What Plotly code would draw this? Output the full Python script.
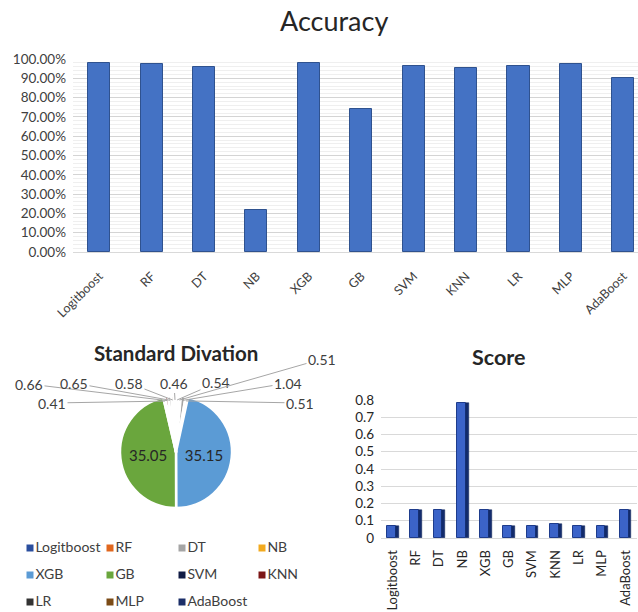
import math
import plotly.graph_objects as go

# ---------------- data ----------------
models = ["Logitboost", "RF", "DT", "NB", "XGB", "GB", "SVM", "KNN", "LR", "MLP", "AdaBoost"]
accuracy = [0.978, 0.973, 0.960, 0.218, 0.978, 0.741, 0.965, 0.952, 0.965, 0.973, 0.903]
std_dev = [0.54, 0.51, 1.04, 0.51, 35.15, 35.05, 0.41, 0.66, 0.65, 0.58, 0.46]
score = [0.07, 0.16, 0.16, 0.78, 0.16, 0.07, 0.07, 0.08, 0.07, 0.07, 0.16]

# ---------------- styles / layout ----------------
W, H = 638, 612
FONT = "Lato"
TXT = "#404040"
pie_colors = ["#2A4E9E", "#E0671E", "#A5A5A5", "#F2AA1F", "#5B9BD5", "#6AA63D",
              "#101B44", "#7C1616", "#333333", "#7B4B16", "#1B2E68"]
# label centres (pixels) for the small slices' callouts, None = label inside
callout_pos = [(216, 383), (322, 359), (288, 383), (300, 403), None, None,
               (52, 403), (29, 384), (74, 383), (129, 383), (174, 383)]
# legend grid (pixels): column x of the swatch, row y
legend_cols = [30, 110, 182, 262]
legend_rows = [548, 575, 602]


def px_x(v):
    return v / W


def px_y(v):
    return 1 - v / H


fig = go.Figure()

# Accuracy bars
fig.add_trace(go.Bar(
    x=list(range(len(models))), y=accuracy, width=0.42,
    marker=dict(color="#4472C4", line=dict(color="#2F528F", width=1)),
    xaxis="x", yaxis="y", showlegend=False, hoverinfo="y"))

# Score bars (front face + dark side face for a 3D look)
fig.add_trace(go.Bar(
    x=list(range(len(models))), y=score, width=0.38, offset=-0.24,
    marker=dict(color="#3B63C8", line=dict(color="#1E3C8C", width=1)),
    xaxis="x2", yaxis="y2", showlegend=False))
fig.add_trace(go.Bar(
    x=list(range(len(models))), y=score, width=0.12, offset=0.14,
    marker=dict(color="#132C6E", line=dict(color="#0E2257", width=0.5)),
    xaxis="x2", yaxis="y2", showlegend=False, hoverinfo="skip"))

# Pie
cx, cy, r = 176, 452, 56
total = sum(std_dev)
fig.add_trace(go.Pie(
    labels=models, values=std_dev, sort=False, direction="clockwise", rotation=0,
    marker=dict(colors=pie_colors, line=dict(color="white", width=2.5)),
    text=[f"{v:.2f}" if p is None else "" for v, p in zip(std_dev, callout_pos)],
    textinfo="text", textposition="inside", insidetextorientation="horizontal",
    textfont=dict(size=15, color="#262626", family=FONT),
    domain=dict(x=[px_x(cx - r), px_x(cx + r)], y=[px_y(cy + r), px_y(cy - r)]),
    showlegend=False, hoverinfo="label+value"))

# Legend drawn as swatches + text on a hidden pixel-space axis
lx = [legend_cols[i % 4] for i in range(len(models))]
ly = [legend_rows[i // 4] for i in range(len(models))]
fig.add_trace(go.Scatter(
    x=lx, y=ly, mode="markers+text", text=models, textposition="middle right",
    textfont=dict(size=14, color=TXT, family=FONT),
    marker=dict(symbol="square", size=7, color=pie_colors),
    xaxis="x3", yaxis="y3", showlegend=False, hoverinfo="skip", cliponaxis=False))

# callouts for small slices
annotations = []
cum = 0.0
for m, v, pos in zip(models, std_dev, callout_pos):
    mid = (cum + v / 2) / total
    cum += v
    if pos is None:
        continue
    th = 2 * math.pi * mid
    tx = cx + 0.93 * r * math.sin(th)
    ty = cy - 0.93 * r * math.cos(th)
    annotations.append(dict(
        x=px_x(tx), y=px_y(ty), xref="paper", yref="paper",
        ax=pos[0] - tx, ay=pos[1] - ty, axref="pixel", ayref="pixel",
        text=f"{v:.2f}", showarrow=True, arrowhead=0, arrowwidth=1,
        arrowcolor="#A6A6A6", font=dict(size=14, color=TXT, family=FONT)))

# titles
annotations += [
    dict(x=px_x(334), y=px_y(21), xref="paper", yref="paper", text="Accuracy",
         xanchor="center", yanchor="middle",
         showarrow=False, font=dict(size=27, color="#262626", family=FONT)),
    dict(x=px_x(176), y=px_y(353), xref="paper", yref="paper", text="<b>Standard Divation</b>",
         xanchor="center", yanchor="middle",
         showarrow=False, font=dict(size=20.5, color="#262626", family=FONT)),
    dict(x=px_x(498), y=px_y(357), xref="paper", yref="paper", text="<b>Score</b>",
         xanchor="center", yanchor="middle",
         showarrow=False, font=dict(size=21.5, color="#262626", family=FONT)),
]

fig.update_layout(
    width=W, height=H, margin=dict(l=0, r=0, t=0, b=0, autoexpand=False),
    paper_bgcolor="white", plot_bgcolor="rgba(0,0,0,0)",
    font=dict(family=FONT, color=TXT),
    barmode="overlay", bargap=0, showlegend=False,
    xaxis=dict(domain=[px_x(73), 1], range=[-0.5, 10.28], anchor="y", automargin=False,
               tickmode="array", tickvals=list(range(len(models))), ticktext=models,
               tickangle=-45, tickfont=dict(size=12.5, color=TXT), ticklabelstandoff=11,
               showline=True, linecolor="#D9D9D9", showgrid=False, zeroline=False),
    yaxis=dict(domain=[px_y(252), px_y(59)], range=[0, 1], anchor="x", automargin=False,
               tickformat=".2%", dtick=0.1, tick0=0, tickfont=dict(size=13.5, color=TXT),
               showgrid=True, gridcolor="#D4D4D4", gridwidth=1, zeroline=False,
               ticklabelstandoff=6,
               minor=dict(dtick=0.02, tick0=0, showgrid=True, gridcolor="#EFEFEF", gridwidth=1)),
    xaxis2=dict(domain=[px_x(381), px_x(637)], range=[-0.5, 10.5], anchor="y2", automargin=False,
                tickmode="array", tickvals=list(range(len(models))), ticktext=models,
                tickangle=-90, tickfont=dict(size=13, color="#262626"), ticklabelstandoff=6,
                showline=True, linecolor="#D9D9D9", showgrid=False, zeroline=False),
    yaxis2=dict(domain=[px_y(538), px_y(400)], range=[0, 0.8], anchor="x2", automargin=False,
                dtick=0.1, tick0=0, tickfont=dict(size=13.5, color="#262626"),
                showgrid=True, gridcolor="#D9D9D9", zeroline=False, ticklabelstandoff=6),
    xaxis3=dict(domain=[0, 1], range=[0, W], visible=False, anchor="y3", automargin=False,
                fixedrange=True),
    yaxis3=dict(domain=[0, 1], range=[H, 0], visible=False, anchor="x3", automargin=False,
                fixedrange=True),
    annotations=annotations,
)

fig.write_html("out.html")
